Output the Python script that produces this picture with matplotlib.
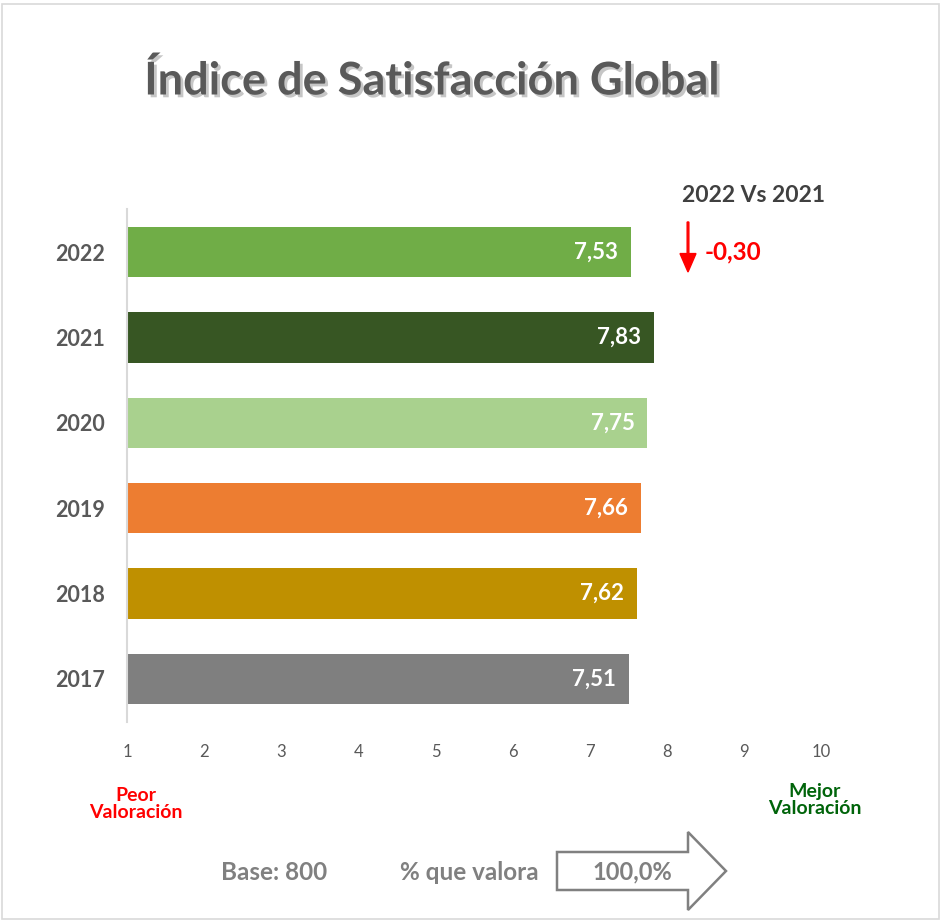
import matplotlib
matplotlib.use("Agg")
import matplotlib.pyplot as plt
import matplotlib.patheffects as pe
from matplotlib.patches import Polygon, FancyArrow, Rectangle

plt.rcParams['font.family'] = ['Lato', 'DejaVu Sans']

years = ["2022", "2021", "2020", "2019", "2018", "2017"]
values = [7.53, 7.83, 7.75, 7.66, 7.62, 7.51]
colors = ["#70AD47", "#375623", "#A9D18E", "#ED7D31", "#BF9000", "#7F7F7F"]
xticks = [1, 2, 3, 4, 5, 6, 7, 8, 9, 10]
value_labels = ["7,53", "7,83", "7,75", "7,66", "7,62", "7,51"]

W, H = 941, 922
fig = plt.figure(figsize=(W / 100, H / 100), dpi=100)
fig.patch.set_facecolor("white")

def fx(px):
    return px / W

def fy(py):
    return 1 - py / H

# Outer border
fig.add_artist(Rectangle((fx(2), fy(919)), fx(937), 915 / H, transform=fig.transFigure,
                         fill=False, edgecolor="#D9D9D9", lw=1.2))

ax = fig.add_axes([fx(127), fy(721.6), fx(821) - fx(127), fy(209.4) - fy(721.6)])
ypos = list(range(len(years)))[::-1]
ax.barh(ypos, [v - 1 for v in values], left=1, height=0.59, color=colors)
ax.set_xlim(1, 10)
ax.set_ylim(-0.5, len(years) - 0.5)
ax.set_yticks(ypos)
ax.set_yticklabels(years, fontsize=15.5, fontweight="bold", color="#595959")
ax.set_xticks(xticks)
ax.set_xticklabels([str(t) for t in xticks], fontsize=12, color="#595959")
ax.tick_params(axis="both", length=0)
ax.tick_params(axis="y", pad=16)
ax.tick_params(axis="x", pad=16)
for s in ["top", "right", "bottom"]:
    ax.spines[s].set_visible(False)
ax.spines["left"].set_color("#D9D9D9")
ax.spines["left"].set_linewidth(1.5)

for y, v, lab in zip(ypos, values, value_labels):
    ax.text(v - 0.17, y, lab, ha="right", va="center", color="white",
            fontsize=16, fontweight="bold")

# Title
fig.text(fx(432), fy(81), "Índice de Satisfacción Global", ha="center", va="center",
         fontsize=32.5, fontweight="bold", color="#595959",
         path_effects=[pe.SimplePatchShadow(offset=(2, -2), shadow_rgbFace="#A0A0A0", alpha=0.6), pe.Normal()])

# Comparison
fig.text(fx(753), fy(195), "2022 Vs 2021", ha="center", va="center",
         fontsize=16.5, fontweight="bold", color="#404040")
fig.add_artist(FancyArrow(fx(688), fy(222), 0, fy(272) - fy(222), width=0.0018,
                          head_width=0.017, head_length=0.02, length_includes_head=True,
                          color="#FF0000", transform=fig.transFigure))
fig.text(fx(705), fy(252), "-0,30", ha="left", va="center",
         fontsize=17.5, fontweight="bold", color="#FF0000")

# Scale labels
fig.text(fx(136), fy(804), "Peor\nValoración", ha="center", va="center",
         fontsize=14, fontweight="bold", color="#FF0000", linespacing=1.05)
fig.text(fx(815), fy(800), "Mejor\nValoración", ha="center", va="center",
         fontsize=14, fontweight="bold", color="#00640A", linespacing=1.05)

# Footer
fig.text(fx(274), fy(872), "Base: 800", ha="center", va="center",
         fontsize=17.5, fontweight="bold", color="#808080")
fig.text(fx(469), fy(872), "% que valora", ha="center", va="center",
         fontsize=17.5, fontweight="bold", color="#808080")
arrow_pts = [(557, 852), (688, 852), (688, 832), (726, 871), (688, 910), (688, 890), (557, 890)]
fig.add_artist(Polygon([(fx(x), fy(y)) for x, y in arrow_pts], closed=True,
                       transform=fig.transFigure, facecolor="white",
                       edgecolor="#808080", lw=1.8))
fig.text(fx(632), fy(872), "100,0%", ha="center", va="center",
         fontsize=17, fontweight="bold", color="#808080")

fig.savefig("out.png", dpi=100)
